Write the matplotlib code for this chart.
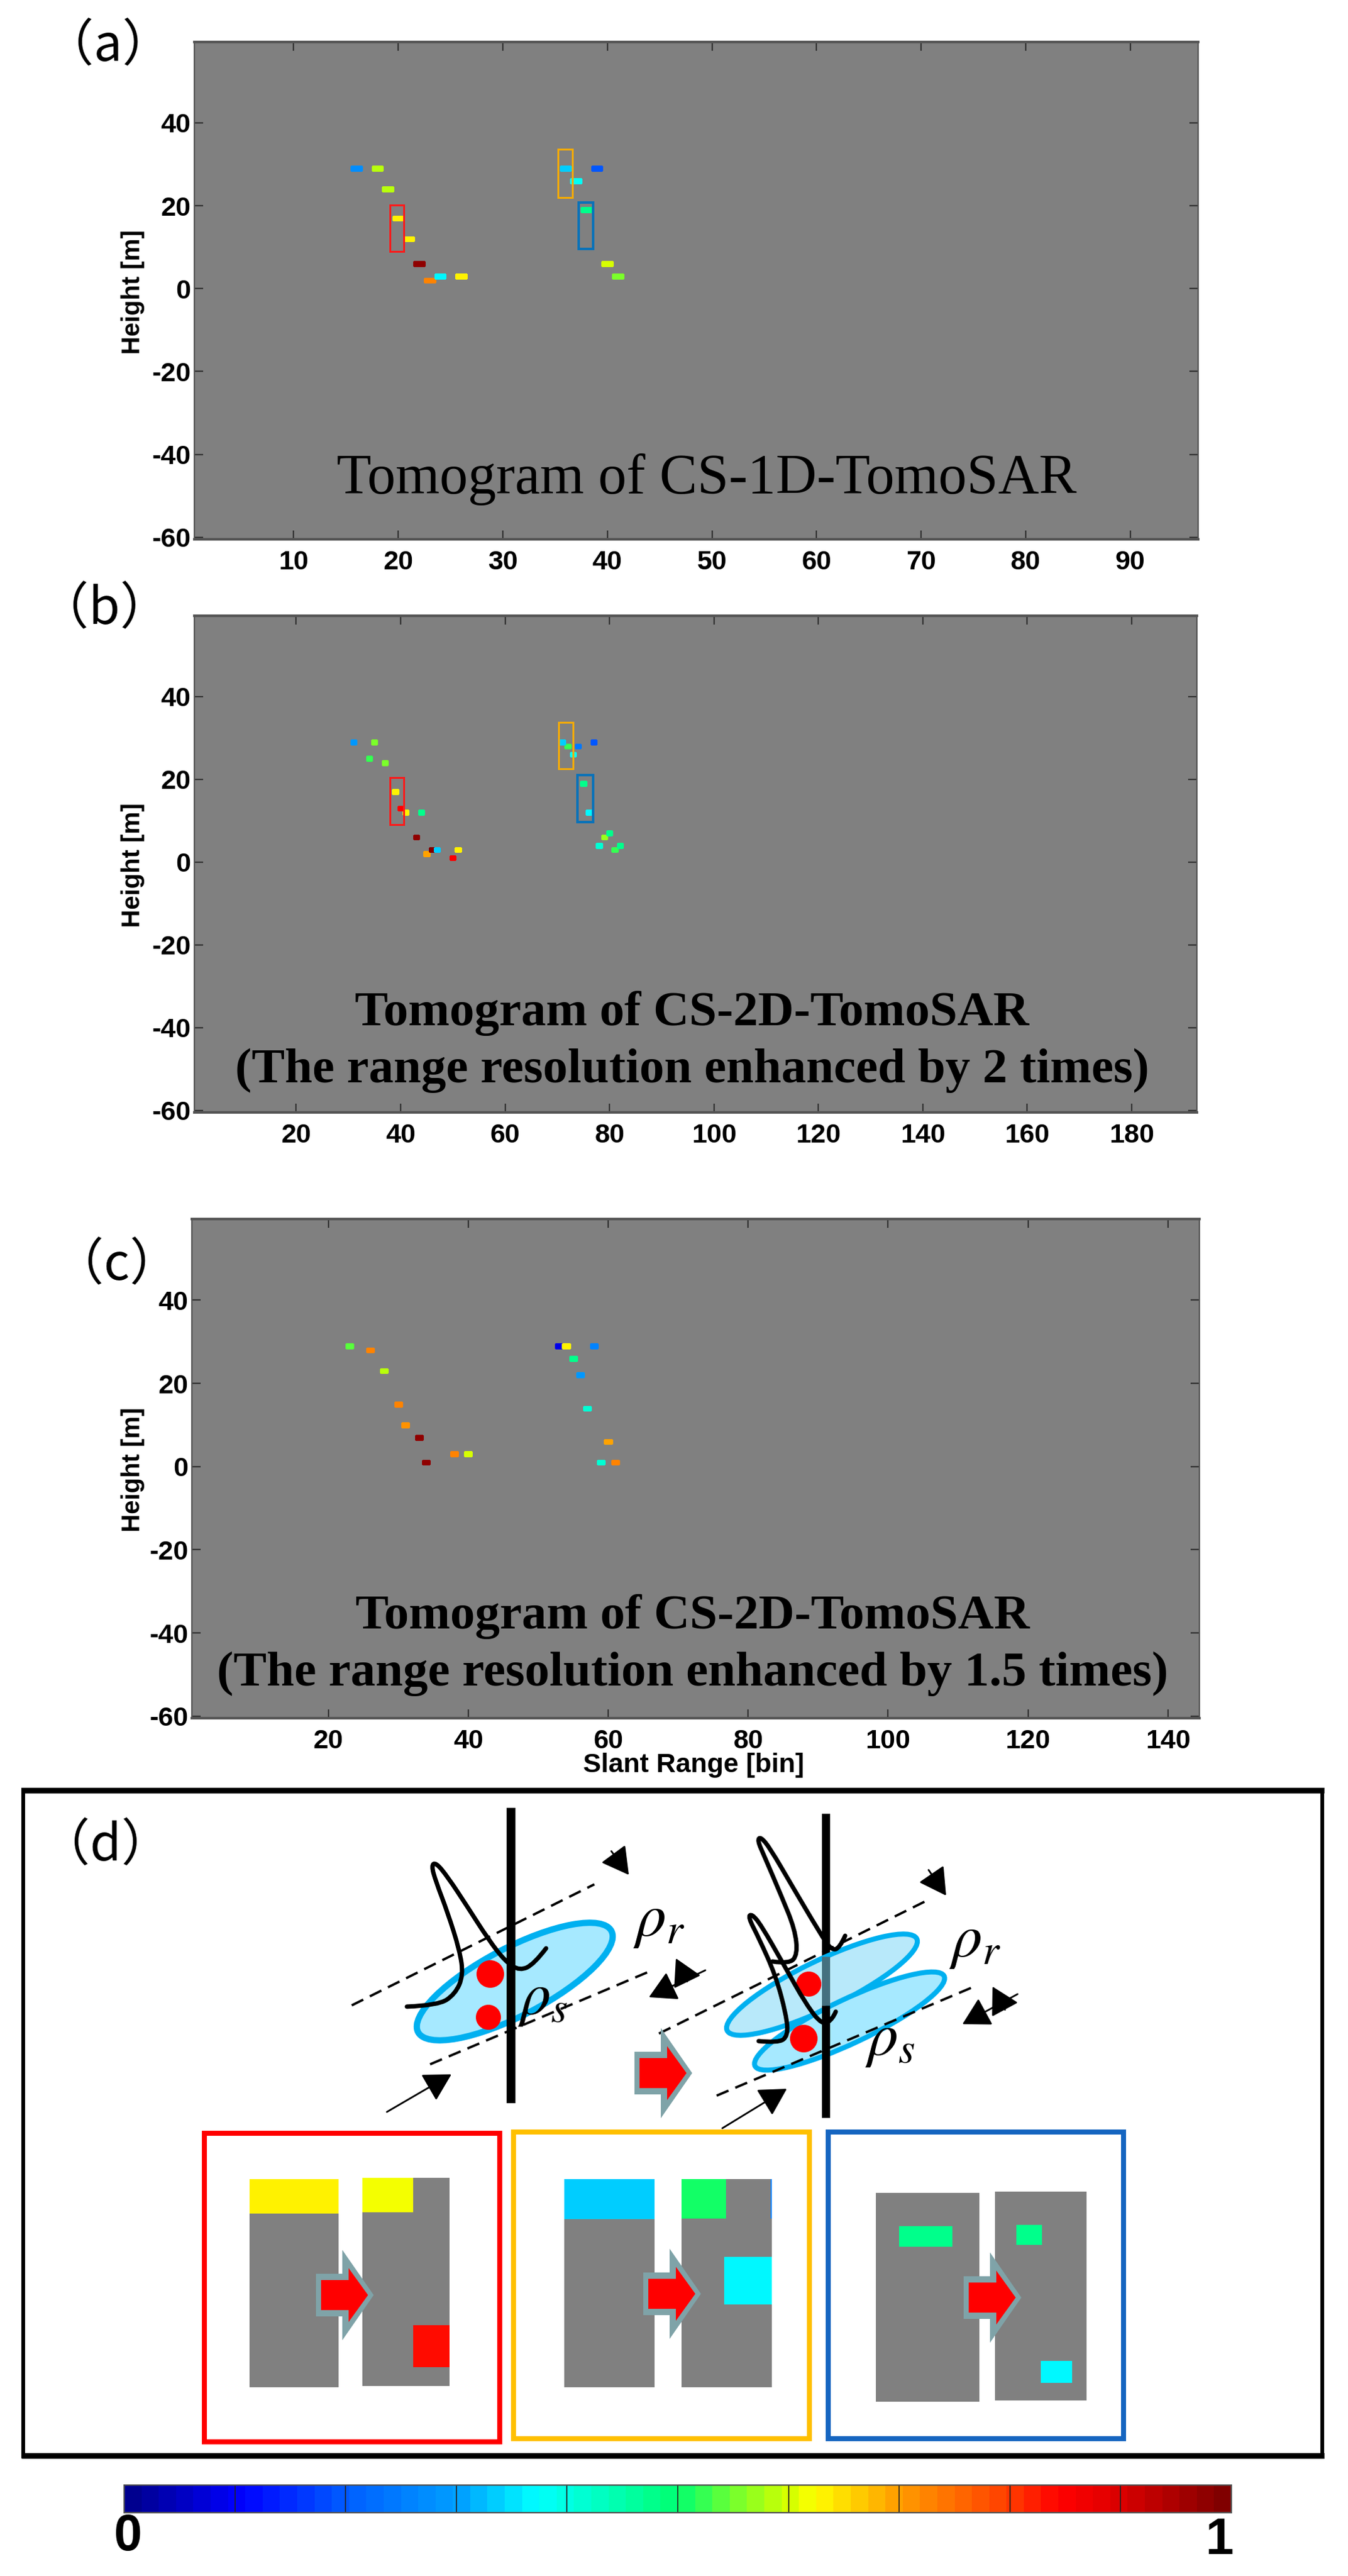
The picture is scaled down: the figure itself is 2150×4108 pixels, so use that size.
import numpy as np
import matplotlib
matplotlib.use('Agg')
import matplotlib.pyplot as plt
from matplotlib.path import Path
from matplotlib.patches import PathPatch, Ellipse, Rectangle, Polygon
from matplotlib.cm import ScalarMappable
from matplotlib.colors import Normalize, LinearSegmentedColormap

W = 2150
H = 4108
NARROW = ['Liberation Sans Narrow', 'Liberation Sans', 'DejaVu Sans']
SERIF = ['Liberation Serif', 'DejaVu Serif']
CJK = ['Noto Sans CJK SC', 'DejaVu Sans']

plt.rcParams['axes.unicode_minus'] = False
plt.rcParams['mathtext.fontset'] = 'stix'

# colour scale at the bottom
cmap_stops = [0, .1, .2, .3, .37, .42, .5, .55, .6, .625, .7, .8, .85, .9, 1]
cmap_colors = ['#00008f', '#0000ff', '#0060ff', '#00a0ff', '#00ffff', '#00ffcc', '#00ff70', '#70ff30',
               '#d0ff00', '#ffff00', '#ffa000', '#ff4000', '#ff0000', '#e00000', '#800000']

# tomogram (a)
a_bins = [16, 18, 19, 20, 21, 22, 23, 24, 26, 36, 37, 38, 39, 40, 41]
a_heights = [29, 29, 24, 17, 12, 6, 2, 3, 3, 29, 26, 19, 29, 6, 3]
a_values = [.28, .58, .58, .625, .625, .98, .72, .36, .625, .33, .39, .47, .2, .6, .56]
a_xticks = [10, 20, 30, 40, 50, 60, 70, 80, 90]

# tomogram (b)
b_bins = [31, 35, 34, 37, 39, 40, 41, 44, 43, 46, 47, 45, 51, 50,
          71, 72, 74, 77, 73, 75, 76, 80, 79, 78, 82, 81]
b_heights = [29, 29, 25, 24, 17, 13, 12, 12, 6, 3, 3, 2, 3, 1,
             29, 28, 28, 29, 26, 19, 12, 7, 6, 4, 4, 3]
b_values = [.29, .55, .53, .56, .625, .85, .625, .47, .97, .99, .33, .7, .625, .85,
            .33, .52, .24, .2, .39, .47, .37, .47, .57, .42, .47, .53]
b_xticks = [20, 40, 60, 80, 100, 120, 140, 160, 180]

# tomogram (c)
c_bins = [23, 26, 28, 30, 31, 33, 34, 38, 40, 53, 54, 58, 55, 56, 57, 60, 59, 61]
c_heights = [29, 28, 23, 15, 10, 7, 1, 3, 3, 29, 29, 29, 26, 22, 14, 6, 1, 1]
c_values = [.54, .73, .58, .73, .71, .97, .97, .73, .6, .08, .625, .26, .47, .29, .42, .69, .42, .73]
c_xticks = [20, 40, 60, 80, 100, 120, 140]

yticks = [40, 20, 0, -20, -40, -60]

# selection boxes: bin0, bin1, height0, height1, colour, width in px
a_boxes = [(19.2, 20.5, 8.9, 20.1, '#ff1a1a', 3), (35.3, 36.65, 22.0, 33.6, '#f5ab00', 3),
           (37.27, 38.65, 9.5, 20.8, '#0a72b8', 4)]
b_boxes = [(38.0, 40.66, 9.0, 20.4, '#ff1a1a', 3), (70.3, 73.0, 22.6, 33.8, '#f5ab00', 3),
           (73.9, 76.9, 9.7, 21.0, '#0a72b8', 4)]

# panel (d) insets in figure pixels: left, top, right, bottom
inset_frames = [(326, 3402, 797, 3894, '#ff0000'), (819, 3400, 1291, 3889, '#ffc000'),
                (1321, 3400, 1792, 3889, '#1565c0')]
inset_panels = [(398, 3475, 540, 3807), (578, 3473, 717, 3805), (900, 3475, 1044, 3807),
                (1087, 3475, 1231, 3807), (1397, 3497, 1562, 3830), (1587, 3495, 1733, 3828)]
# left, top, right, bottom, value
inset_cells = [(398, 3475, 540, 3530, .625), (578, 3473, 659, 3528, .61), (659, 3708, 717, 3775, .83),
               (900, 3475, 1044, 3539, .33), (1087, 3475, 1158, 3538, .5), (1229, 3475, 1231, 3538, .25),
               (1155, 3599, 1231, 3675, .37), (1434, 3550, 1519, 3583, .47),
               (1621, 3548, 1662, 3580, .47), (1660, 3765, 1710, 3800, .36)]
big_arrows = [(596, 3660), (1118, 3658), (1629, 3664), (1104, 3306)]

# beam sketch, figure pixels
left_curve = [(649, 3200), (699, 3198), (726, 3180), (739, 3150), (733, 3110), (714, 3050), (695, 3000),
              (688, 2975), (695, 2970), (714, 2993), (745, 3040), (779, 3093), (806, 3128), (829, 3143),
              (852, 3132), (871, 3107)]
right_curve1 = [(1232, 3128), (1259, 3132), (1272, 3117), (1268, 3077), (1246, 3023), (1219, 2960), (1208, 2935),
                (1213, 2929), (1228, 2947), (1263, 3007), (1308, 3083), (1326, 3110), (1339, 3107), (1348, 3087)]
right_curve2 = [(1210, 3255), (1241, 3258), (1257, 3247), (1254, 3213), (1237, 3150), (1210, 3090), (1193, 3057),
                (1199, 3052), (1214, 3070), (1250, 3133), (1286, 3197), (1312, 3230), (1328, 3220), (1333, 3208)]
small_arrows = [((975, 2952), (1003, 2990)), ((617, 3368), (720, 3308)), ((1125, 3142), (1035, 3185)),
                ((1096, 3160), (1078, 3123)), ((1481, 2982), (1509, 3023)), ((1152, 3394), (1255, 3331)),
                ((1623, 3180), (1535, 3228)), ((1603, 3205), (1583, 3168))]

fig = plt.figure(figsize=(W / 100, H / 100), dpi=100, facecolor='white')
tomo_cmap = LinearSegmentedColormap.from_list('tomo', list(zip(cmap_stops, cmap_colors)), N=64)


def px_axes(left, top, right, bottom):
    return fig.add_axes([left / W, 1 - bottom / H, (right - left) / W, (bottom - top) / H])


def tomogram(rect, nbins, bins, heights, values, xticks, boxes):
    ax = px_axes(*rect)
    ax.set_facecolor('#808080')
    grid = np.full((120, nbins), np.nan)
    for b, h, v in zip(bins, heights, values):
        grid[h + 60, b - 1] = v
    xedges = np.arange(nbins + 1) + 0.5
    yedges = np.arange(121) - 60.5
    ax.pcolormesh(xedges, yedges, np.ma.masked_invalid(grid), cmap=tomo_cmap, vmin=0, vmax=1,
                  edgecolors='face', linewidth=1.0)
    ax.set_xlim(0.5, nbins + 0.5)
    ax.set_ylim(-60.5, 59.5)
    for x0, x1, y0, y1, col, lw in boxes:
        ax.add_patch(Rectangle((x0, y0), x1 - x0, y1 - y0, fill=False, ec=col, lw=lw * 0.72))
    ax.set_xticks(xticks)
    ax.set_yticks(yticks)
    ax.tick_params(direction='in', top=True, right=True, length=10, width=1.6, color='#333333', pad=12)
    ax.tick_params(axis='y', pad=4)
    for lab in ax.get_xticklabels() + ax.get_yticklabels():
        lab.set_family(NARROW)
        lab.set_fontweight('bold')
        lab.set_fontsize(31)
    for name in ['top', 'bottom']:
        ax.spines[name].set_linewidth(3)
        ax.spines[name].set_color('#555555')
    for name in ['left', 'right']:
        ax.spines[name].set_linewidth(1.6)
        ax.spines[name].set_color('#555555')
    return ax


tomogram((310, 67, 1911, 860), 96, a_bins, a_heights, a_values, a_xticks, a_boxes)
tomogram((310, 982, 1909, 1774), 192, b_bins, b_heights, b_values, b_xticks, b_boxes)
tomogram((306, 1944, 1913, 2740), 144, c_bins, c_heights, c_values, c_xticks, [])

# overlay in figure pixels for the labels and panel (d)
ov = fig.add_axes([0, 0, 1, 1], zorder=5)
ov.set_xlim(0, W)
ov.set_ylim(H, 0)
ov.axis('off')
ov.patch.set_alpha(0)

for y in [466, 1380, 2344]:
    ov.text(212, y, 'Height [m]', rotation=90, ha='center', va='center', fontsize=29,
            fontweight='bold', family=['Liberation Sans', 'DejaVu Sans'])
ov.text(1106, 2815, 'Slant Range [bin]', ha='center', va='center', fontsize=31, fontweight='bold', family=NARROW)

ov.text(1127, 787, 'Tomogram of CS-1D-TomoSAR', ha='center', va='baseline', fontsize=65, family=SERIF)
ov.text(1104, 1635, 'Tomogram of CS-2D-TomoSAR', ha='center', va='baseline', fontsize=57, fontweight='bold', family=SERIF)
ov.text(1104, 1726, '(The range resolution enhanced by 2 times)', ha='center', va='baseline', fontsize=57, fontweight='bold', family=SERIF)
ov.text(1105, 2597, 'Tomogram of CS-2D-TomoSAR', ha='center', va='baseline', fontsize=57, fontweight='bold', family=SERIF)
ov.text(1105, 2688, '(The range resolution enhanced by 1.5 times)', ha='center', va='baseline', fontsize=57, fontweight='bold', family=SERIF)

for s, x, y in [('（a）', 172, 74), ('（b）', 166, 972), ('（c）', 186, 2018), ('（d）', 168, 2944)]:
    ov.text(x, y, s, ha='center', va='center', fontsize=58, fontweight='medium', family=CJK)

# panel (d)
ov.plot([34, 2112], [2855, 2855], color='black', lw=9 * 0.72, solid_capstyle='butt')
ov.plot([34, 2112], [3916, 3916], color='black', lw=9 * 0.72, solid_capstyle='butt')
ov.plot([37, 37], [2851, 3920], color='black', lw=6 * 0.72, solid_capstyle='butt')
ov.plot([2109, 2109], [2851, 3920], color='black', lw=6 * 0.72, solid_capstyle='butt')


def smooth_path(pts):
    pts = np.array(pts, dtype=float)
    verts = [pts[0]]
    codes = [Path.MOVETO]
    for i in range(1, len(pts) - 2):
        verts += [pts[i], (pts[i] + pts[i + 1]) / 2]
        codes += [Path.CURVE3, Path.CURVE3]
    verts += [pts[-2], pts[-1]]
    codes += [Path.CURVE3, Path.CURVE3]
    return Path(verts, codes)


def draw_curve(pts, z):
    ov.add_patch(PathPatch(smooth_path(pts), fill=False, ec='black', lw=7 * 0.72, capstyle='round',
                           joinstyle='round', zorder=z))


def dashed(p0, p1, z):
    ov.plot([p0[0], p1[0]], [p0[1], p1[1]], color='black', lw=3.8 * 0.72, linestyle=(0, (5.4, 3.1)), zorder=z)


def block_arrow(tip, cy):
    outer = [(tip - 92, cy - 34), (tip - 50, cy - 34), (tip - 50, cy - 72), (tip, cy),
             (tip - 50, cy + 72), (tip - 50, cy + 34), (tip - 92, cy + 34)]
    inner = [(tip - 84, cy - 24), (tip - 40, cy - 24), (tip - 40, cy - 43), (tip - 9, cy),
             (tip - 40, cy + 43), (tip - 40, cy + 24), (tip - 84, cy + 24)]
    ov.add_patch(Polygon(outer, fc='#7fa3a8', ec='none', zorder=8))
    ov.add_patch(Polygon(inner, fc='#ff0000', ec='none', zorder=9))


# left beam
dashed((561, 3198), (948, 3005), 2)
dashed((686, 3292), (1038, 3143), 2)
ov.add_patch(Ellipse((821, 3160), 348, 108, angle=-27.6, fc='#a6e9ff', ec='#00b0f0', lw=10 * 0.72, zorder=3))
ov.plot([814.6, 814.6], [2883, 3354], color='black', lw=14 * 0.72, solid_capstyle='butt', zorder=4)
for x, y, r in [(782, 3148, 22), (779, 3217, 20)]:
    ov.add_patch(Ellipse((x, y), 2 * r, 2 * r, fc='#ff0000', ec='none', zorder=5))
draw_curve(left_curve, 6)

# right beam
dashed((1051, 3243), (1480, 3030), 2)
ov.plot([1316.5, 1316.5], [2892, 3120], color='black', lw=13 * 0.72, solid_capstyle='butt', zorder=2)
ov.plot([1316.5, 1316.5], [3120, 3198], color='#44707f', lw=13 * 0.72, solid_capstyle='butt', zorder=4)
ov.add_patch(Ellipse((1311, 3165), 336, 76, angle=-25.8, fc='#b8e9fa', ec='#00b0f0', lw=8 * 0.72, zorder=3))
ov.add_patch(Ellipse((1355, 3223), 334, 70, angle=-25.4, fc='#a6e9ff', ec='#00b0f0', lw=8 * 0.72, zorder=3.5))
dashed((1143, 3342), (1549, 3170), 4)
ov.plot([1316.5, 1316.5], [3198, 3377], color='black', lw=13 * 0.72, solid_capstyle='butt', zorder=4.5)
for x, y, r in [(1290, 3164, 20), (1282, 3251, 22)]:
    ov.add_patch(Ellipse((x, y), 2 * r, 2 * r, fc='#ff0000', ec='none', zorder=5))
draw_curve(right_curve1, 6)
draw_curve(right_curve2, 6)

for tail, tip in small_arrows:
    ov.annotate('', xy=tip, xytext=tail, zorder=7,
                arrowprops=dict(arrowstyle='-|>,head_length=0.5,head_width=0.28', mutation_scale=54, lw=2,
                                color='black', shrinkA=0, shrinkB=0))

for s, x, y in [(r'$\rho_r$', 1010, 3087), (r'$\rho_s$', 826, 3212), (r'$\rho_r$', 1514, 3120), (r'$\rho_s$', 1380, 3277)]:
    ov.text(x, y, s, ha='left', va='baseline', fontsize=70, color='black', zorder=7)

for left, top, right, bottom, col in inset_frames:
    ov.add_patch(Rectangle((left, top), right - left, bottom - top, fill=False, ec=col, lw=8 * 0.72, zorder=3))
for left, top, right, bottom in inset_panels:
    ov.add_patch(Rectangle((left, top), right - left, bottom - top, fc='#808080', ec='none', zorder=4))
for left, top, right, bottom, v in inset_cells:
    ov.add_patch(Rectangle((left, top), right - left, bottom - top, fc=tomo_cmap(v), ec='none', zorder=5))
for tip, cy in big_arrows:
    block_arrow(tip, cy)

# colour bar
cax = px_axes(198, 3963, 1964, 4007)
cb = fig.colorbar(ScalarMappable(Normalize(0, 1), tomo_cmap), cax=cax, orientation='horizontal',
                  ticks=np.linspace(0, 1, 11))
cb.ax.tick_params(direction='in', length=32, width=1.2, color='#222222', labelbottom=False)
cb.outline.set_edgecolor('#555555')
cb.outline.set_linewidth(1.6)
ov.text(204, 4046, '0', ha='center', va='center', fontsize=58, fontweight='bold', family=NARROW)
ov.text(1945, 4052, '1', ha='center', va='center', fontsize=58, fontweight='bold', family=NARROW)

fig.savefig('out.png', dpi=100)
